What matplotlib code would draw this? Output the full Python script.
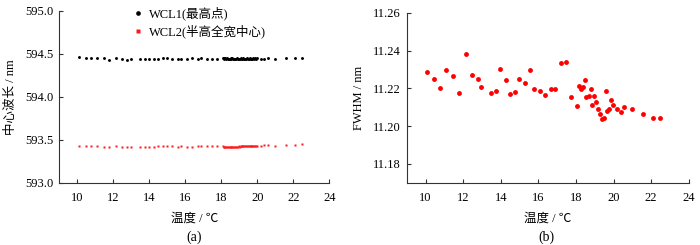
import matplotlib
matplotlib.use('Agg')
import matplotlib.pyplot as plt

plt.rcParams['font.family'] = ['Liberation Serif', 'Noto Sans CJK SC', 'DejaVu Sans']
plt.rcParams['font.size'] = 9

# (a) centre wavelength vs temperature
temp_a = [10.07, 10.46, 10.76, 11.07, 11.47, 11.78, 12.17, 12.47, 12.77, 12.97,
          13.46, 13.77, 13.98, 14.26, 14.48, 14.78, 14.97, 15.28, 15.58, 15.77,
          16.08, 16.38, 16.68, 16.88, 17.18, 17.48, 17.76, 18.07,
          18.12, 18.17, 18.22, 18.28, 18.33, 18.37, 18.42, 18.47, 18.52, 18.56,
          18.61, 18.67, 18.72, 18.78, 18.82, 18.86, 18.92, 18.97, 19.02, 19.08,
          19.12, 19.17, 19.22, 19.27, 19.33, 19.38, 19.42, 19.47, 19.52, 19.58,
          19.62, 19.66, 19.72, 19.77, 19.82, 19.88, 19.92, 19.97,
          20.18, 20.37, 20.57, 20.98, 21.58, 22.08, 22.47]
wcl1 = [594.457, 594.452, 594.453, 594.449, 594.456, 594.432, 594.452, 594.443, 594.429, 594.434,
        594.437, 594.436, 594.437, 594.435, 594.436, 594.447, 594.450, 594.439, 594.436, 594.443,
        594.443, 594.447, 594.443, 594.451, 594.437, 594.443, 594.443, 594.452,
        594.446, 594.444, 594.449, 594.441, 594.447, 594.443, 594.445, 594.440, 594.446, 594.442,
        594.448, 594.441, 594.445, 594.439, 594.444, 594.446, 594.441, 594.445, 594.443, 594.447,
        594.440, 594.444, 594.446, 594.441, 594.445, 594.443, 594.447, 594.442, 594.444, 594.446,
        594.440, 594.445, 594.443, 594.448, 594.441, 594.446, 594.444, 594.449,
        594.443, 594.441, 594.447, 594.436, 594.446, 594.446, 594.446]
wcl2 = [593.426, 593.425, 593.425, 593.423, 593.420, 593.417, 593.423, 593.421, 593.418, 593.419,
        593.418, 593.419, 593.420, 593.421, 593.422, 593.423, 593.423, 593.422, 593.421, 593.422,
        593.421, 593.421, 593.422, 593.423, 593.422, 593.423, 593.424, 593.424,
        593.420, 593.418, 593.419, 593.417, 593.418, 593.419, 593.417, 593.418, 593.420, 593.418,
        593.419, 593.420, 593.419, 593.420, 593.421, 593.420, 593.421, 593.422, 593.421, 593.422,
        593.423, 593.422, 593.423, 593.424, 593.423, 593.424, 593.425, 593.424, 593.425, 593.426,
        593.425, 593.426, 593.427, 593.426, 593.427, 593.428, 593.428, 593.429,
        593.432, 593.434, 593.434, 593.432, 593.440, 593.441, 593.446]

# (b) FWHM vs temperature
temp_b = [10.07, 10.46, 10.76, 11.07, 11.47, 11.78, 12.17, 12.47, 12.77, 12.97,
          13.46, 13.77, 13.98, 14.26, 14.48, 14.78, 14.97, 15.28, 15.58, 15.77,
          16.08, 16.38, 16.68, 16.88, 17.18, 17.48, 17.76, 18.07, 18.17, 18.28,
          18.37, 18.47, 18.56, 18.67, 18.78, 18.86, 18.97, 19.08, 19.17, 19.27,
          19.38, 19.47, 19.58, 19.66, 19.77, 19.88, 19.97, 20.18, 20.37, 20.57,
          20.98, 21.58, 22.08, 22.47]
fwhm = [11.2286, 11.2248, 11.2200, 11.2299, 11.2267, 11.2177, 11.2380, 11.2270, 11.2251, 11.2209,
        11.2177, 11.2186, 11.2300, 11.2244, 11.2170, 11.2181, 11.2251, 11.2228, 11.2295, 11.2195,
        11.2186, 11.2167, 11.2195, 11.2195, 11.2334, 11.2337, 11.2152, 11.2107, 11.2213, 11.2198,
        11.2205, 11.2246, 11.2156, 11.2159, 11.2196, 11.2114, 11.2159, 11.2126, 11.2091, 11.2063,
        11.2038, 11.2041, 11.2186, 11.2078, 11.2091, 11.2140, 11.2110, 11.2091, 11.2073, 11.2101,
        11.2089, 11.2063, 11.2045, 11.2041]

xticks = [10, 12, 14, 16, 18, 20, 22, 24]
yticks_a = [593.0, 593.5, 594.0, 594.5, 595.0]
yticks_b = [11.18, 11.20, 11.22, 11.24, 11.26]

fig = plt.figure(figsize=(7, 2.45), dpi=100)
ax1 = fig.add_axes([0.0847, 0.254, 0.386, 0.702])
ax2 = fig.add_axes([0.581, 0.254, 0.403, 0.694])

ax1.plot(temp_a, wcl1, 'o', color='black', ms=2.1, mec='none', label='WCL1(最高点)')
ax1.plot(temp_a, wcl2, 's', color='#ff1a1a', ms=1.7, mec='none', label='WCL2(半高全宽中心)')
ax1.set_xlim(9, 24)
ax1.set_ylim(593.0, 595.0)
ax1.set_yticks(yticks_a)
ax1.set_yticklabels(['%.1f' % v for v in yticks_a])
ax1.set_ylabel('中心波长 / nm', labelpad=6)
ax1.legend(loc='upper left', bbox_to_anchor=(0.245, 1.06), frameon=False,
           handlelength=1.0, handletextpad=0.4, labelspacing=0.35, borderpad=0,
           markerscale=1.6)

ax2.plot(temp_b, fwhm, 'o', color='#ff0000', ms=3.5, mec='none')
ax2.set_xlim(9, 24)
ax2.set_ylim(11.17, 11.26)
ax2.set_yticks(yticks_b)
ax2.set_yticklabels(['%.2f' % v for v in yticks_b])
ax2.set_ylabel('FWHM / nm', labelpad=6)

for ax in (ax1, ax2):
    ax.set_xticks(xticks)
    ax.set_xlabel('温度 / ℃', labelpad=6)
    ax.spines['top'].set_visible(False)
    ax.spines['right'].set_visible(False)
    for s in ('left', 'bottom'):
        ax.spines[s].set_linewidth(0.8)
        ax.spines[s].set_color('#333333')
    ax.tick_params(direction='in', length=3, width=0.8, color='#333333')
    ax.tick_params(axis='x', pad=7)
    ax.tick_params(axis='y', pad=4)

fig.text(0.277, 0.03, '(a)', ha='center', va='center', fontsize=10)
fig.text(0.78, 0.03, '(b)', ha='center', va='center', fontsize=10)

fig.savefig('out.png', dpi=100)
